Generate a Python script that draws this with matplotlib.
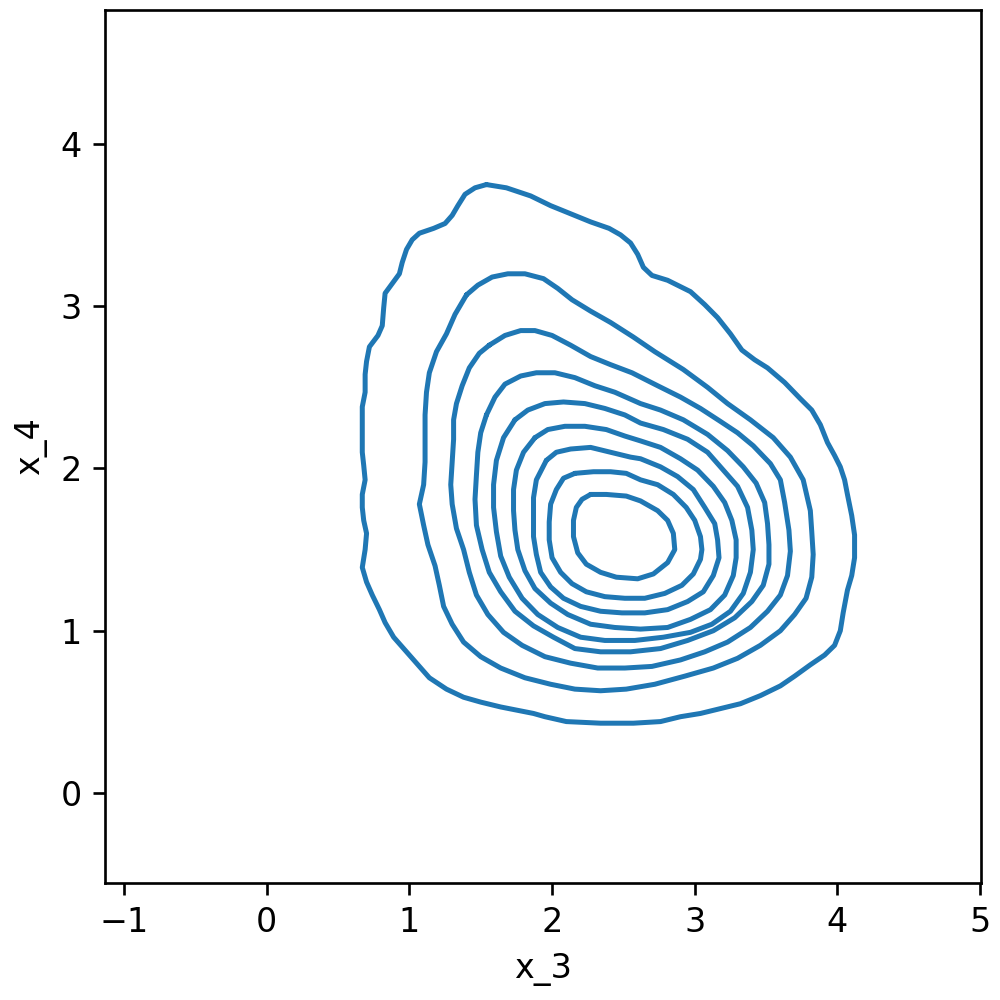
import matplotlib
matplotlib.use("Agg")
import matplotlib.pyplot as plt

# Contour rings of the bivariate KDE (x_3, x_4), outer -> inner
ring1_x = [1.54, 1.68, 1.85, 1.99, 2.13, 2.27, 2.40, 2.48, 2.55, 2.60, 2.64, 2.70, 2.81, 2.97, 3.07, 3.16,
           3.25, 3.33, 3.42, 3.51, 3.63, 3.74, 3.82, 3.88, 3.93, 3.98, 4.02, 4.05, 4.07, 4.10, 4.12, 4.12,
           4.10, 4.07, 4.04, 4.02, 3.98, 3.91, 3.81, 3.70, 3.60, 3.46, 3.32, 3.18, 3.04, 2.90, 2.76, 2.57,
           2.34, 2.10, 1.95, 1.87, 1.64, 1.50, 1.38, 1.26, 1.14, 1.05, 0.97, 0.89, 0.83, 0.79, 0.74, 0.70,
           0.67, 0.69, 0.70, 0.68, 0.67, 0.67, 0.69, 0.68, 0.67, 0.67, 0.67, 0.67, 0.69, 0.69, 0.70, 0.72,
           0.78, 0.81, 0.82, 0.83, 0.88, 0.93, 0.95, 0.98, 1.02, 1.07, 1.17, 1.25, 1.30, 1.34, 1.39, 1.46]
ring1_y = [3.75, 3.73, 3.68, 3.62, 3.57, 3.52, 3.48, 3.44, 3.39, 3.32, 3.24, 3.19, 3.16, 3.09, 3.01, 2.93,
           2.83, 2.73, 2.67, 2.62, 2.53, 2.43, 2.36, 2.27, 2.16, 2.08, 2.01, 1.93, 1.84, 1.71, 1.59, 1.45,
           1.34, 1.25, 1.11, 1.00, 0.91, 0.85, 0.79, 0.72, 0.66, 0.60, 0.55, 0.52, 0.49, 0.47, 0.44, 0.43,
           0.43, 0.44, 0.47, 0.49, 0.53, 0.56, 0.59, 0.64, 0.71, 0.80, 0.88, 0.96, 1.05, 1.13, 1.22, 1.30,
           1.39, 1.50, 1.60, 1.68, 1.76, 1.84, 1.93, 2.02, 2.10, 2.19, 2.29, 2.38, 2.47, 2.58, 2.66, 2.75,
           2.82, 2.88, 2.99, 3.08, 3.14, 3.20, 3.27, 3.35, 3.41, 3.45, 3.48, 3.51, 3.56, 3.62, 3.69, 3.73]

ring2_x = [1.40, 1.48, 1.58, 1.69, 1.81, 1.94, 2.04, 2.14, 2.27, 2.41, 2.57, 2.72, 2.92, 3.09, 3.23, 3.39,
           3.55, 3.67, 3.76, 3.81, 3.82, 3.83, 3.82, 3.78, 3.70, 3.60, 3.46, 3.30, 3.13, 2.93,
           2.72, 2.52, 2.34, 2.16, 1.99, 1.81, 1.64, 1.50, 1.38, 1.30, 1.24, 1.21, 1.18, 1.13, 1.10, 1.07,
           1.10, 1.11, 1.11, 1.11, 1.12, 1.14, 1.19, 1.26, 1.32]
ring2_y = [3.07, 3.13, 3.18, 3.20, 3.20, 3.17, 3.11, 3.04, 2.97, 2.90, 2.81, 2.72, 2.61, 2.50, 2.40, 2.30,
           2.19, 2.07, 1.93, 1.74, 1.61, 1.47, 1.33, 1.20, 1.10, 1.00, 0.91, 0.83, 0.77, 0.72,
           0.67, 0.64, 0.63, 0.64, 0.67, 0.71, 0.77, 0.84, 0.93, 1.04, 1.15, 1.28, 1.40, 1.53, 1.65, 1.78,
           1.90, 2.04, 2.18, 2.33, 2.47, 2.59, 2.72, 2.83, 2.95]

ring3_x = [1.56, 1.67, 1.78, 1.88, 2.00, 2.13, 2.27, 2.41, 2.56, 2.74, 2.90, 3.04, 3.18, 3.30, 3.41, 3.53,
           3.60, 3.63, 3.66, 3.67, 3.65, 3.60, 3.51, 3.39, 3.23, 3.07, 2.90, 2.70, 2.51, 2.32, 2.13, 1.95,
           1.79, 1.66, 1.55, 1.47, 1.42, 1.38, 1.33, 1.30, 1.29, 1.30, 1.31, 1.31, 1.33, 1.37, 1.42, 1.49]
ring3_y = [2.76, 2.82, 2.85, 2.85, 2.82, 2.76, 2.69, 2.64, 2.59, 2.51, 2.44, 2.37, 2.29, 2.22, 2.14, 2.03,
           1.93, 1.79, 1.62, 1.49, 1.34, 1.22, 1.12, 1.02, 0.93, 0.87, 0.82, 0.78, 0.77, 0.77, 0.80, 0.84,
           0.91, 0.99, 1.10, 1.22, 1.36, 1.50, 1.63, 1.78, 1.90, 2.04, 2.18, 2.30, 2.40, 2.51, 2.62, 2.71]

ring4_x = [1.54, 1.60, 1.67, 1.78, 1.89, 2.02, 2.16, 2.30, 2.44, 2.62, 2.76, 2.92, 3.09, 3.23, 3.34, 3.43,
           3.49, 3.51, 3.52, 3.52, 3.48, 3.40, 3.28, 3.13, 2.95, 2.76, 2.55, 2.34, 2.16, 2.01, 1.87, 1.74,
           1.64, 1.56, 1.51, 1.47, 1.46, 1.47, 1.48, 1.50]
ring4_y = [2.33, 2.44, 2.52, 2.57, 2.59, 2.59, 2.56, 2.51, 2.47, 2.40, 2.36, 2.30, 2.21, 2.11, 2.01, 1.91,
           1.79, 1.66, 1.53, 1.41, 1.28, 1.18, 1.08, 1.00, 0.94, 0.89, 0.87, 0.87, 0.89, 0.96, 1.03, 1.12,
           1.24, 1.36, 1.50, 1.65, 1.81, 1.96, 2.10, 2.22]

ring5_x = [1.74, 1.83, 1.95, 2.08, 2.23, 2.37, 2.51, 2.62, 2.78, 2.95, 3.09, 3.20, 3.30, 3.37, 3.40, 3.41,
           3.39, 3.34, 3.25, 3.12, 2.97, 2.78, 2.58, 2.37, 2.20, 2.04, 1.90, 1.79, 1.70, 1.64, 1.61, 1.59,
           1.59, 1.61, 1.66]
ring5_y = [2.30, 2.36, 2.40, 2.41, 2.40, 2.37, 2.33, 2.28, 2.24, 2.18, 2.10, 1.99, 1.89, 1.76, 1.62, 1.50,
           1.36, 1.23, 1.12, 1.04, 0.99, 0.96, 0.94, 0.94, 0.96, 1.02, 1.10, 1.20, 1.33, 1.46, 1.61, 1.76,
           1.90, 2.05, 2.19]

ring6_x = [1.88, 1.97, 2.09, 2.23, 2.38, 2.51, 2.62, 2.76, 2.90, 3.02, 3.13, 3.21, 3.26, 3.29, 3.29, 3.27,
           3.21, 3.11, 2.97, 2.81, 2.62, 2.44, 2.27, 2.11, 1.99, 1.88, 1.81, 1.76, 1.74, 1.73, 1.73, 1.75,
           1.80]
ring6_y = [2.19, 2.24, 2.26, 2.26, 2.24, 2.20, 2.17, 2.13, 2.06, 1.99, 1.89, 1.79, 1.68, 1.56, 1.45, 1.34,
           1.22, 1.13, 1.07, 1.02, 1.01, 1.02, 1.04, 1.10, 1.17, 1.26, 1.37, 1.50, 1.62, 1.74, 1.87, 1.99,
           2.10]

ring7_x = [1.96, 2.03, 2.13, 2.27, 2.41, 2.55, 2.62, 2.76, 2.88, 2.99, 3.07, 3.14, 3.16, 3.17, 3.13, 3.06,
           2.95, 2.81, 2.65, 2.49, 2.34, 2.20, 2.08, 1.99, 1.92, 1.89, 1.87, 1.87, 1.87, 1.89]
ring7_y = [2.05, 2.10, 2.12, 2.13, 2.10, 2.07, 2.06, 2.01, 1.95, 1.87, 1.76, 1.66, 1.56, 1.45, 1.34, 1.24,
           1.18, 1.13, 1.11, 1.11, 1.12, 1.15, 1.20, 1.27, 1.36, 1.47, 1.58, 1.69, 1.82, 1.93]

ring8_x = [2.16, 2.29, 2.41, 2.52, 2.62, 2.74, 2.85, 2.94, 3.00, 3.04, 3.05, 3.04, 2.99, 2.91, 2.79, 2.65,
           2.51, 2.37, 2.24, 2.14, 2.06, 2.00, 1.98, 1.98, 1.99, 2.03, 2.08]
ring8_y = [1.97, 1.98, 1.98, 1.97, 1.93, 1.90, 1.84, 1.76, 1.68, 1.58, 1.50, 1.44, 1.35, 1.28, 1.23, 1.20,
           1.20, 1.21, 1.24, 1.29, 1.36, 1.45, 1.56, 1.67, 1.78, 1.87, 1.94]

ring9_x = [2.27, 2.38, 2.52, 2.62, 2.74, 2.81, 2.85, 2.86, 2.81, 2.71, 2.60, 2.45, 2.34, 2.24, 2.18, 2.15,
           2.15, 2.17, 2.21]
ring9_y = [1.84, 1.84, 1.83, 1.80, 1.74, 1.68, 1.60, 1.50, 1.42, 1.35, 1.32, 1.33, 1.36, 1.41, 1.48, 1.58,
           1.68, 1.76, 1.81]

rings = [(ring1_x, ring1_y), (ring2_x, ring2_y), (ring3_x, ring3_y), (ring4_x, ring4_y),
         (ring5_x, ring5_y), (ring6_x, ring6_y), (ring7_x, ring7_y), (ring8_x, ring8_y),
         (ring9_x, ring9_y)]

x_ticks = [-1, 0, 1, 2, 3, 4, 5]
y_ticks = [0, 1, 2, 3, 4]

fig = plt.figure(figsize=(1000 / 240, 1000 / 240), dpi=240)
ax = fig.add_axes([0.105, 0.117, 0.876, 0.873])

for rx, ry in rings:
    ax.plot(list(rx) + [rx[0]], list(ry) + [ry[0]], color="#1f77b4", linewidth=1.5,
            solid_joinstyle="round", solid_capstyle="round")

ax.set_xlim(-1.133, 5.006)
ax.set_ylim(-0.555, 4.826)
ax.set_xticks(x_ticks)
ax.set_yticks(y_ticks)
ax.set_xlabel("x_3")
ax.set_ylabel("x_4")

fig.savefig("out.png", dpi=240)
